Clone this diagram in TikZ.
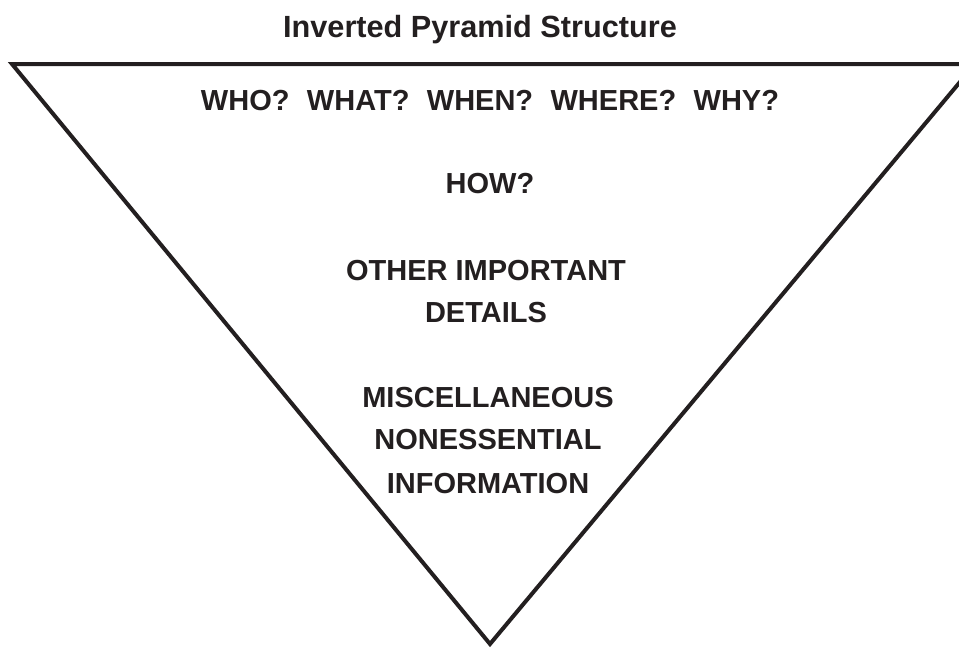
\documentclass[tikz,border=0pt]{standalone}
\usepackage{fontspec}
\setmainfont{Liberation Sans}
\definecolor{ink}{HTML}{231F20}

\begin{document}
\begin{tikzpicture}[x=0.75pt, y=-0.75pt,
		title/.style={anchor=base, inner sep=0pt, text=ink, font=\fontsize{23}{28}\selectfont\bfseries},
		level/.style={anchor=base, inner sep=0pt, text=ink, font=\fontsize{21.75}{26}\selectfont\bfseries}]
		\useasboundingbox (0, 0) rectangle (959, 647);
		\clip (0, 0) rectangle (959, 647);

		% 逆三角形を描画
		\draw[ink, line width=3pt, line join=miter] (12, 64) -- (975, 64) -- (490, 644) -- cycle;

		% タイトル
		\node[title] (head) at (480, 37) {Inverted Pyramid Structure};

		% 各段の文字を描画
		\node[level] (who) at (490, 110) {WHO?\hspace{0.6em}WHAT?\hspace{0.6em}WHEN?\hspace{0.6em}WHERE?\hspace{0.6em}WHY?};
		\node[level] (how) at (490, 193) {HOW?};
		\node[level] (other) at (486, 280) {OTHER IMPORTANT};
		\node[level] (details) at (486, 322) {DETAILS};
		\node[level] (misc) at (488, 407) {MISCELLANEOUS};
		\node[level] (noness) at (488, 449) {NONESSENTIAL};
		\node[level] (info) at (488, 493) {INFORMATION};

	\end{tikzpicture}
\end{document}
